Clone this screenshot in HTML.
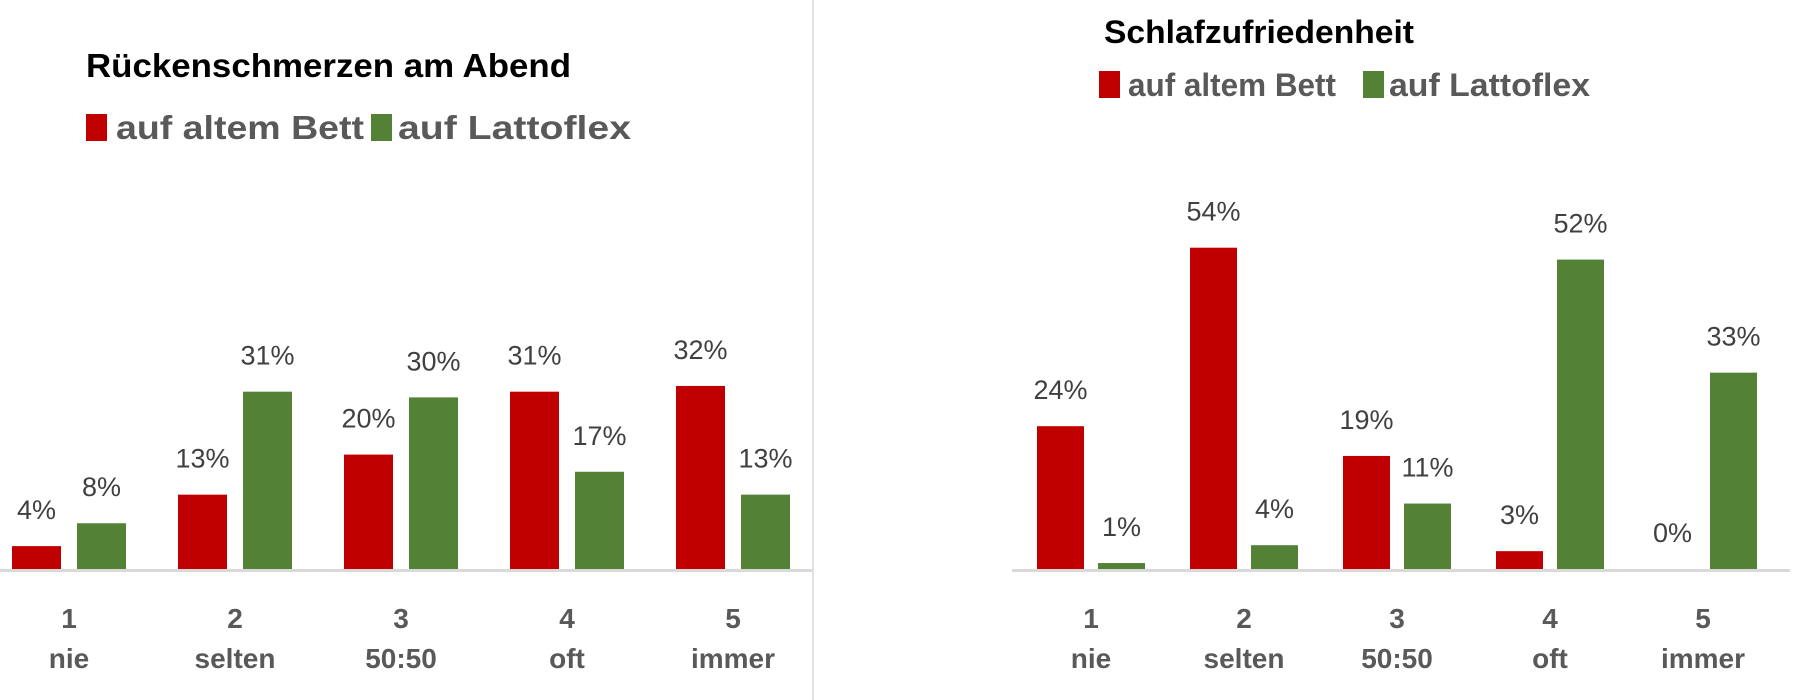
<!DOCTYPE html>
<html><head><meta charset="utf-8"><style>
html,body{margin:0;padding:0;background:#fff;}
svg{display:block;font-family:"Liberation Sans",Calibri,sans-serif;}
</style></head><body>
<svg id="c" width="1800" height="700" viewBox="0 0 1800 700">
<line x1="813" y1="0" x2="813" y2="700" stroke="#e3e3e3" stroke-width="2"/>
<text x="86" y="77" font-size="33" font-weight="bold" fill="#000" textLength="485" lengthAdjust="spacingAndGlyphs">Rückenschmerzen am Abend</text>
<rect x="86" y="114" width="21" height="27" fill="#c00000"/>
<text x="116" y="139" font-size="33" font-weight="bold" fill="#595959" textLength="248" lengthAdjust="spacingAndGlyphs">auf altem Bett</text>
<rect x="371" y="114" width="21" height="27" fill="#538135"/>
<text x="398" y="139" font-size="33" font-weight="bold" fill="#595959" textLength="233" lengthAdjust="spacingAndGlyphs">auf Lattoflex</text>
<text x="1104" y="43" font-size="32" font-weight="bold" fill="#000" textLength="310" lengthAdjust="spacingAndGlyphs">Schlafzufriedenheit</text>
<rect x="1099" y="71" width="21" height="27" fill="#c00000"/>
<text x="1128" y="96" font-size="32" font-weight="bold" fill="#595959" textLength="208" lengthAdjust="spacingAndGlyphs">auf altem Bett</text>
<rect x="1363" y="71" width="21" height="27" fill="#538135"/>
<text x="1389" y="96" font-size="32" font-weight="bold" fill="#595959" textLength="201" lengthAdjust="spacingAndGlyphs">auf Lattoflex</text>
</svg>
<script>
const catNums = ["1","2","3","4","5"];
const catNames = ["nie","selten","50:50","oft","immer"];
const leftOld = [4,13,20,31,32];
const leftNew = [8,31,30,17,13];
const rightOld = [24,54,19,3,0];
const rightNew = [1,4,11,52,33];

const NS="http://www.w3.org/2000/svg";
const svg=document.getElementById('c');
function mk(tag,attrs){const e=document.createElementNS(NS,tag);for(const k in attrs)e.setAttribute(k,attrs[k]);svg.appendChild(e);return e;}

function drawChart(prefix,oldV,newV,cfg){
  const yOf=v=>cfg.base - v*cfg.ppu;
  const xc=i=>cfg.x0 + i*cfg.step;
  const ax=mk('line',{x1:cfg.axL,x2:cfg.axR,y1:cfg.base+1.5,y2:cfg.base+1.5,stroke:'#d9d9d9','stroke-width':3});
  
  
  catNums.forEach((c,i)=>{
    const series=[[oldV[i],'#c00000','old',-1],[newV[i],'#538135','new',1]];
    series.forEach(([v,col,nm,side])=>{
      const x = side<0 ? xc(i)-cfg.gap/2-cfg.bw : xc(i)+cfg.gap/2;
      const r=mk('rect',{x:x,y:yOf(v),width:cfg.bw,height:Math.max(0,v*cfg.ppu),fill:col});
      
      
      const t=mk('text',{x:x+cfg.bw/2,y:yOf(v)-cfg.lblOff,'font-size':cfg.lfs,fill:'#404040','text-anchor':'middle'});
      t.textContent=v+'%';
      
      
    });
    const n=mk('text',{x:xc(i),y:cfg.base+59,'font-size':28,'font-weight':'bold',fill:'#595959','text-anchor':'middle'});
    n.textContent=c;
    
    
    const m=mk('text',{x:xc(i),y:cfg.base+99,'font-size':28,'font-weight':'bold',fill:'#595959','text-anchor':'middle'});
    m.textContent=catNames[i];
    
    
  });
}
drawChart('left',leftOld,leftNew,{base:569,ppu:5.72,x0:69,step:166,bw:49,gap:16,axL:0,axR:813,lblOff:27,lfs:27});
drawChart('right',rightOld,rightNew,{base:569,ppu:5.95,x0:1091,step:153,bw:47,gap:14,axL:1012,axR:1790,lblOff:27,lfs:27});
</script>
</body></html>
